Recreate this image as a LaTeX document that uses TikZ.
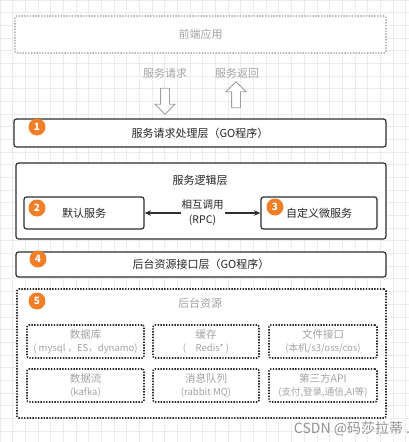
\documentclass[tikz,border=0pt]{standalone}
\usepackage{fontspec}
\setmainfont{Noto Sans CJK SC}
\usetikzlibrary{shapes.arrows,arrows.meta}

\definecolor{badgeorange}{HTML}{F07F27}
\definecolor{boxline}{HTML}{2E2E2E}
\definecolor{hintgray}{HTML}{A3A3A3}
\definecolor{dotgray}{HTML}{2A2A2A}

\tikzset{
  layer/.style={draw=boxline, line width=1.2pt, rounded corners=2.5pt, fill=white,
    font=\fontsize{11}{13}\selectfont, text=black!85},
  dotbox/.style={draw=dotgray, line width=1.6pt, dash pattern=on 1.4pt off 1.4pt,
    rounded corners=2pt, fill=white},
  subbox/.style={dotbox, minimum width=117pt, minimum height=33pt, align=center,
    text=hintgray, font=\fontsize{10.5}{15}\selectfont},
  hint/.style={text=hintgray, font=\fontsize{11}{13}\selectfont},
  badge/.style={circle, fill=badgeorange, text=white, inner sep=0pt,
    minimum size=17pt, font=\fontsize{10}{10}\selectfont\bfseries},
  hollowarrow/.style={single arrow, draw=gray!75, fill=white, line width=0.9pt,
    inner sep=4pt, single arrow head extend=5.5pt, minimum height=26pt},
  gridline/.style={draw=gray!15, line width=0.5pt}
}

\begin{document}
\begin{tikzpicture}[x=1pt, y=-1pt]
    \useasboundingbox (0,0) rectangle (409,442);
    % 背景网格
    \draw[gridline, step=12.67pt] (0,0) grid (409,442);

    % 前端应用与请求方向
    \node[dotbox, draw=gray!55, minimum width=371pt, minimum height=37pt, hint] (front) at (200.5,34.5) {前端应用};
    \node[hint] (reqtext) at (165,73) {服务请求};
    \node[hint] (resptext) at (237,73) {服务返回};
    \node[hollowarrow, rotate=-90] (reqarrow) at (165,99) {};
    \node[hollowarrow, rotate=90] (resparrow) at (236,97) {};

    % 第一层：服务请求处理
    \node[layer, minimum width=372pt, minimum height=28pt] (tier1) at (200,133) {服务请求处理层（GO程序）};
    \node[badge] (b1) at (37,127) {1};

    % 服务逻辑层及其两个服务
    \node[layer, minimum width=370pt, minimum height=76pt] (logic) at (201,201) {};
    \node[font=\fontsize{11}{13}\selectfont, text=black!85] (logictitle) at (200,180) {服务逻辑层};
    \node[layer, minimum width=120pt, minimum height=32pt] (defsvc) at (84,213) {默认服务};
    \node[layer, minimum width=116pt, minimum height=32pt] (custsvc) at (319,213) {自定义微服务};
    \node[badge] (b2) at (37,208) {2};
    \node[badge] (b3) at (275,207) {3};
    \draw[{Stealth[length=6.5pt,width=5.5pt]}-{Stealth[length=6.5pt,width=5.5pt]}, line width=1.3pt, draw=boxline]
        (defsvc) -- (custsvc)
        node[midway, fill=white, align=center, inner sep=1pt, font=\fontsize{10.5}{15}\selectfont, text=black!85] (rpc) {相互调用\\(RPC)};

    % 第四层：后台资源接口
    \node[layer, minimum width=370pt, minimum height=25pt] (tier4) at (201,264.5) {后台资源接口层（GO程序）};
    \node[badge] (b4) at (38,259) {4};

    % 后台资源
    \node[dotbox, minimum width=369pt, minimum height=129pt] (backend) at (201.5,353.5) {};
    \node[hint] (backtitle) at (200,303) {后台资源};
    \node[badge] (b5) at (37,301) {5};

    \node[subbox] (db) at (85.5,341.5) {数据库\\[-2pt]{\fontsize{9.5}{11}\selectfont( mysql ，ES，dynamo)}};
    \node[subbox, minimum width=106pt] (cache) at (206,341.5) {缓存\\[-2pt]{\fontsize{9.5}{11}\selectfont(　Redis* )}};
    \node[subbox, minimum width=108pt] (files) at (323,341.5) {文件接口\\[-2pt]{\fontsize{9.5}{11}\selectfont(本机/s3/oss/cos)}};
    \node[subbox] (stream) at (85.5,385.5) {数据流\\[-2pt]{\fontsize{9.5}{11}\selectfont(kafka)}};
    \node[subbox, minimum width=106pt] (queue) at (206,385.5) {消息队列\\[-2pt]{\fontsize{9.5}{11}\selectfont(rabbit MQ)}};
    \node[subbox, minimum width=108pt] (thirdapi) at (323,385.5) {第三方API\\[-2pt]{\fontsize{9.5}{11}\selectfont(支付,登录,通信,AI等)}};

    % 水印
    \node[text=gray!85, font=\fontsize{14}{16}\selectfont] (mark) at (352,429) {CSDN @码莎拉蒂 .};
\end{tikzpicture}
\end{document}
